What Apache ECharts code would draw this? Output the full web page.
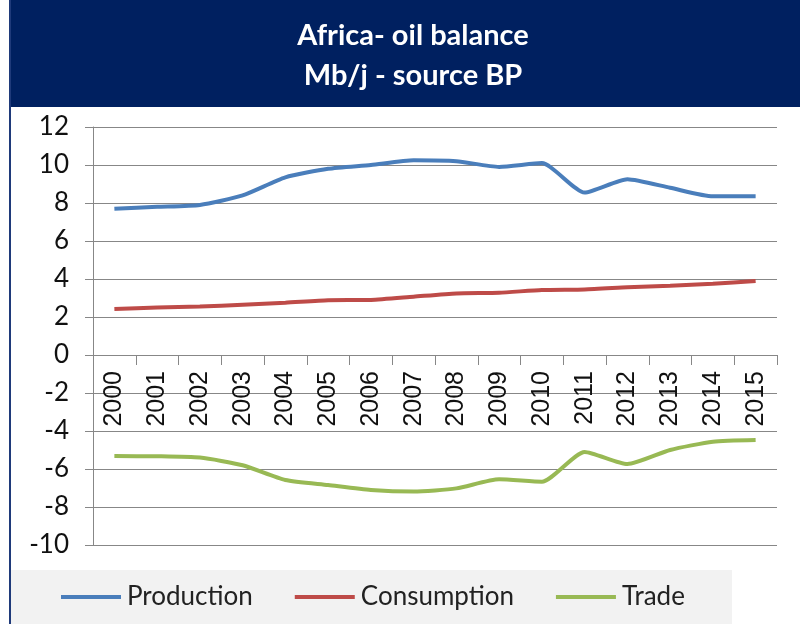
<!DOCTYPE html>
<html>
<head>
<meta charset="utf-8">
<script src="https://cdn.jsdelivr.net/npm/echarts@6/dist/echarts.min.js"></script>
<style>html,body{margin:0;padding:0;background:#fff}#c{width:800px;height:624px}</style>
</head>
<body>
<div id="c"></div>
<script>
const years = ["2000","2001","2002","2003","2004","2005","2006","2007","2008","2009","2010","2011","2012","2013","2014","2015"];
const production = [7.7, 7.8, 7.9, 8.4, 9.35, 9.8, 10.0, 10.25, 10.2, 9.9, 10.1, 8.55, 9.25, 8.8, 8.35, 8.35];
const consumption = [2.42, 2.5, 2.55, 2.65, 2.75, 2.88, 2.9, 3.07, 3.24, 3.28, 3.42, 3.45, 3.56, 3.65, 3.75, 3.9];
const trade = [-5.32, -5.33, -5.4, -5.8, -6.58, -6.84, -7.1, -7.19, -7.02, -6.54, -6.67, -5.1, -5.74, -5.0, -4.56, -4.47];
const yTicks = {min: -10, max: 12, interval: 2};
const titleLines = ["Africa- oil balance", "Mb/j - source BP"];

const chart = echarts.init(document.getElementById('c'), null, {renderer: 'canvas'});
const FONT = 'Lato, "Open Sans", sans-serif';
// grid geometry: top 127, bottom at 545 -> zero line at 355
const gridTop = 127, gridBottom = 79;
const plotH = 624 - gridTop - gridBottom;
const zeroOffset = -plotH * (0 - yTicks.min) / (yTicks.max - yTicks.min);
chart.setOption({
  animation: false,
  backgroundColor: '#ffffff',
  graphic: [
    {type: 'rect', left: 10, top: 0, shape: {width: 790, height: 107}, style: {fill: '#002060'}, z: 0},
    {type: 'rect', left: 11, top: 570, shape: {width: 721, height: 54}, style: {fill: '#f2f2f2'}, z: 0},
    {type: 'rect', left: 9, top: 0, shape: {width: 2, height: 624}, style: {fill: '#1f3a7a'}, z: 1}
  ],
  title: {
    text: titleLines.join('\n'),
    left: 408, top: 11, textAlign: 'center',
    textStyle: {color: '#ffffff', fontFamily: FONT, fontWeight: 'bold', fontSize: 29, lineHeight: 40}
  },
  legend: {
    left: 56, top: 579,
    itemWidth: 60, itemHeight: 4, itemGap: 42,
    icon: 'rect',
    textStyle: {fontFamily: FONT, fontSize: 26, color: '#222', padding: [0,0,0,1]},
    data: ['Production', 'Consumption', 'Trade']
  },
  grid: {left: 93, right: 23, top: gridTop, bottom: gridBottom, containLabel: false},
  xAxis: {
    type: 'category', data: years, boundaryGap: true,
    offset: zeroOffset,
    axisLine: {onZero: false, lineStyle: {color: '#878787', width: 1}},
    axisTick: {show: true, length: 10, inside: false, lineStyle: {color: '#878787'}},
    axisLabel: {rotate: 90, margin: 16, fontFamily: '"Liberation Sans", Arial, sans-serif', fontSize: 25, color: '#111', interval: 0},
    splitLine: {show: false}
  },
  yAxis: {
    type: 'value', min: yTicks.min, max: yTicks.max, interval: yTicks.interval,
    axisLine: {show: true, lineStyle: {color: '#878787', width: 1}},
    axisTick: {show: true, length: 8, lineStyle: {color: '#878787'}},
    axisLabel: {margin: 24, fontFamily: FONT, fontSize: 26, color: '#111'},
    splitLine: {show: true, lineStyle: {color: '#878787', width: 1}}
  },
  series: [
    {name: 'Production', type: 'line', data: production, smooth: 0.2, symbol: 'none',
     lineStyle: {width: 4, color: '#4a7ebb'}, itemStyle: {color: '#4a7ebb'}},
    {name: 'Consumption', type: 'line', data: consumption, smooth: 0.2, symbol: 'none',
     lineStyle: {width: 4, color: '#be4b48'}, itemStyle: {color: '#be4b48'}},
    {name: 'Trade', type: 'line', data: trade, smooth: 0.2, symbol: 'none',
     lineStyle: {width: 4, color: '#98b954'}, itemStyle: {color: '#98b954'}}
  ]
});
</script>
</body>
</html>
